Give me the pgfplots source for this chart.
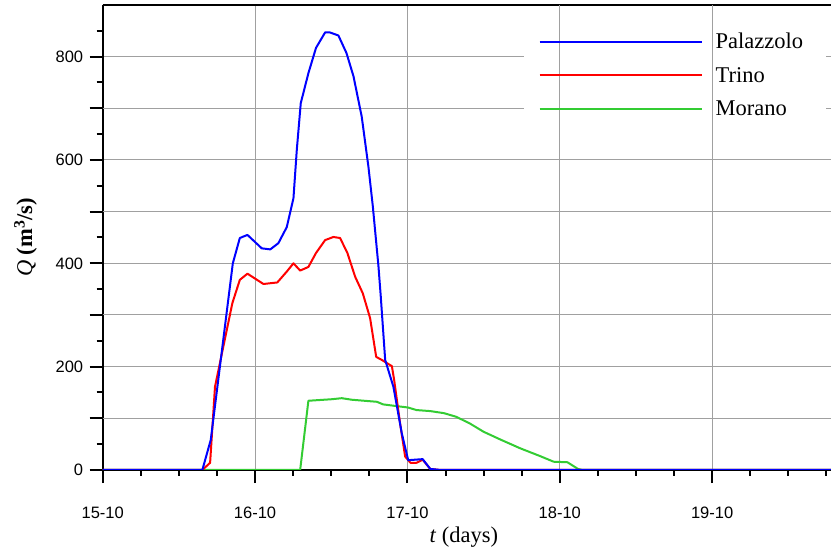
\documentclass[border=0pt]{standalone}
\usepackage{pgfplots}
\pgfplotsset{compat=1.18}
\usepackage{fontspec}
\setmainfont{Liberation Serif}
\newfontfamily\ticksf{Liberation Sans}
\definecolor{pblue}{RGB}{0,0,255}
\definecolor{pred}{RGB}{255,0,0}
\definecolor{pgreen}{RGB}{51,204,51}
\definecolor{gridc}{RGB}{160,160,160}
\begin{document}
\begin{tikzpicture}
\begin{axis}[
  at={(0pt,0pt)}, anchor=south west,
  scale only axis, width=728.3pt, height=465pt,
  xmin=15, xmax=19.78, ymin=0, ymax=900,
  axis x line=box, axis y line=left,
  axis line style={-, line width=2pt, black},
  xtick pos=bottom, ytick pos=left,
  tick align=outside,
  xtick={15,16,17,18,19},
  xticklabels={15-10,16-10,17-10,18-10,19-10},
  minor xtick={15.25,15.5,15.75,16.25,16.5,16.75,17.25,17.5,17.75,18.25,18.5,18.75,19.25,19.5,19.75},
  ytick={0,200,400,600,800},
  minor ytick={50,150,250,350,450,550,650,750,850},
  extra y ticks={100,300,500,700},
  extra y tick labels={},
  extra y tick style={grid=major},
  major tick length=13pt, minor tick length=6pt,
  grid=major,
  grid style={gridc, line width=1pt},
  tick style={black, line width=2pt},
  /pgf/number format/assume math mode=true,
  ticklabel style={font=\ticksf\fontsize{16.5}{16.5}\selectfont},
  xticklabel style={yshift=-20pt},
  yticklabel style={xshift=-3pt},
  xlabel={\textit{t} (days)},
  ylabel={\textit{Q} \textbf{(m\textsuperscript{3}/s)}},
  label style={font=\fontsize{22.5}{24}\selectfont},
  xlabel style={at={(axis description cs:0.496,-0.144)}, anchor=center},
  ylabel style={at={(axis description cs:-0.106,0.5)}, anchor=center, rotate=0},
  reverse legend,
  legend style={draw=none, fill=none, at={(axis cs:17.86,850)}, anchor=north west,
    font=\fontsize{22.5}{24}\selectfont, inner sep=0pt, row sep=13pt, column sep=11pt,
    nodes={inner sep=2pt}, cells={anchor=west}},
  legend image code/.code={\draw[#1, line width=2pt] (0pt,0pt) -- (162pt,0pt);},
  every axis plot/.append style={line width=2pt, line join=round},
]
\fill[white] (axis cs:17.766,658) rectangle (axis cs:19.75,895);
\draw[gridc, line width=1pt] (axis cs:18,650) -- (axis cs:18,900);
\draw[gridc, line width=1pt] (axis cs:19,650) -- (axis cs:19,900);

\addplot[pgreen] coordinates {
(15,0) (16.296,0) (16.35,134) (16.504,137) (16.569,139) (16.635,136) (16.80,132)
(16.84,127) (16.92,124) (17.003,121) (17.06,116) (17.15,114) (17.24,110) (17.32,103)
(17.41,90) (17.50,74) (17.61,59) (17.74,42) (17.87,27) (17.96,16) (18.05,15)
(18.12,2) (18.15,0) (19.78,0)};
\addlegendentry{Morano}

\addplot[pred] coordinates {
(15,0) (15.654,0) (15.705,14) (15.737,161) (15.851,323) (15.90,368) (15.95,380)
(16.055,360) (16.146,363) (16.208,384) (16.252,400) (16.296,386) (16.35,393)
(16.40,420) (16.46,445) (16.514,451) (16.558,449) (16.606,420) (16.657,374)
(16.707,342) (16.755,294) (16.795,219) (16.832,213) (16.898,201) (16.913,174)
(16.952,90) (16.985,26) (17.02,14) (17.06,14) (17.10,20) (17.15,2) (17.22,0) (19.78,0)};
\addlegendentry{Trino}

\addplot[pblue] coordinates {
(15,0) (15.654,0) (15.709,58) (15.854,400) (15.90,449) (15.95,455) (16.044,429)
(16.10,427) (16.153,439) (16.208,470) (16.252,526) (16.274,620) (16.30,710)
(16.35,768) (16.40,817) (16.46,847) (16.49,847) (16.547,841) (16.60,807)
(16.646,762) (16.70,684) (16.744,587) (16.773,510) (16.81,394) (16.825,336)
(16.854,213) (16.908,161) (16.963,71) (17.005,19) (17.10,21) (17.15,2) (17.22,0) (19.78,0)};
\addlegendentry{Palazzolo}
\end{axis}
\pgfresetboundingbox
\useasboundingbox (-102.7pt,-79pt) rectangle (728.3pt,470pt);
\end{tikzpicture}
\end{document}
